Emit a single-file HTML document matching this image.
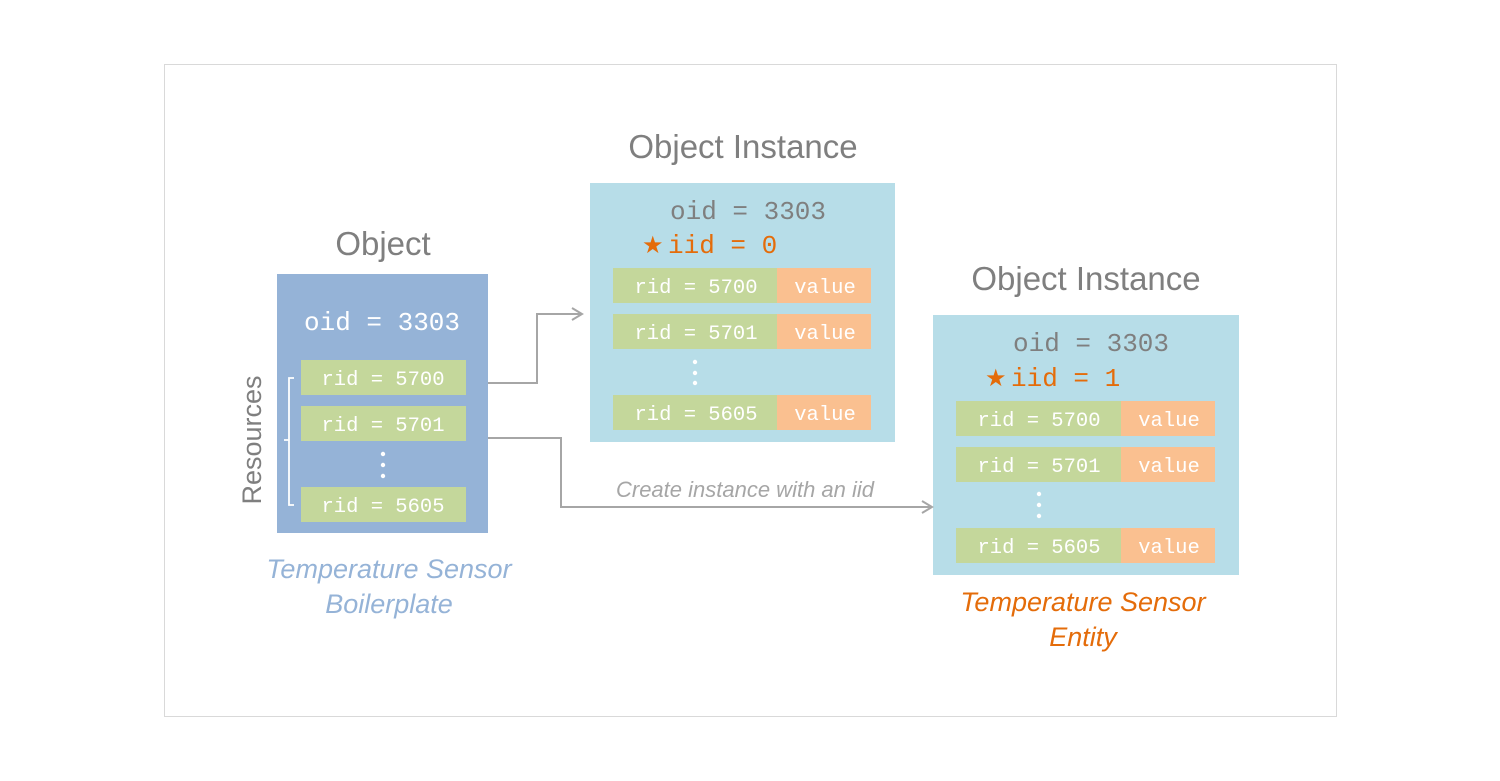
<!DOCTYPE html>
<html><head><meta charset="utf-8"><style>
html,body{margin:0;padding:0;background:#fff;}
svg{display:block;}
.m{font-family:"Liberation Mono",monospace;}
.s{font-family:"Liberation Sans",sans-serif;}
</style></head><body>
<svg width="1500" height="781" viewBox="0 0 1500 781" xmlns="http://www.w3.org/2000/svg">
<rect x="164.5" y="64.5" width="1172" height="652" fill="#fff" stroke="#d9d9d9" stroke-width="1"/>

<!-- Object -->
<text x="383" y="255" class="s" font-size="33" fill="#7f7f7f" text-anchor="middle">Object</text>
<rect x="277" y="274" width="211" height="259" fill="#95b3d7"/>
<text x="382" y="330" class="m" font-size="26" fill="#fff" text-anchor="middle">oid = 3303</text>
<g class="m" font-size="20.5" fill="#fff" text-anchor="middle">
<rect x="301" y="360" width="165" height="35" fill="#c4d79b"/>
<text x="383" y="385">rid = 5700</text>
<rect x="301" y="406" width="165" height="35" fill="#c4d79b"/>
<text x="383" y="431">rid = 5701</text>
<rect x="301" y="487" width="165" height="35" fill="#c4d79b"/>
<text x="383" y="512">rid = 5605</text>
</g>
<g fill="#fff"><circle cx="383" cy="454" r="2.2"/><circle cx="383" cy="465" r="2.2"/><circle cx="383" cy="476" r="2.2"/></g>
<path d="M294 378 H289 V505 H294 M289 440 H284" fill="none" stroke="#fff" stroke-width="1.8"/>
<text transform="translate(261,440) rotate(-90)" class="s" font-size="27" fill="#7f7f7f" text-anchor="middle">Resources</text>
<text x="389" y="578" class="s" font-size="27" font-style="italic" fill="#95b3d7" text-anchor="middle">Temperature Sensor</text>
<text x="389" y="613" class="s" font-size="27" font-style="italic" fill="#95b3d7" text-anchor="middle">Boilerplate</text>

<!-- Instance 1 -->
<text x="743" y="158" class="s" font-size="33" fill="#7f7f7f" text-anchor="middle">Object Instance</text>
<rect x="590" y="183" width="305" height="259" fill="#b7dde8"/>
<text x="748" y="219" class="m" font-size="26" fill="#7f7f7f" text-anchor="middle">oid = 3303</text>
<text x="642" y="253" font-family="DejaVu Sans,sans-serif" font-size="24" fill="#e46c0a">★</text>
<text x="668" y="253" class="m" font-size="26" fill="#e46c0a">iid = 0</text>
<g class="m" font-size="20.5" fill="#fff" text-anchor="middle">
<rect x="613" y="268" width="164" height="35" fill="#c4d79b"/><rect x="777" y="268" width="94" height="35" fill="#fac090"/>
<text x="696" y="293">rid = 5700</text><text x="825" y="293">value</text>
<rect x="613" y="314" width="164" height="35" fill="#c4d79b"/><rect x="777" y="314" width="94" height="35" fill="#fac090"/>
<text x="696" y="339">rid = 5701</text><text x="825" y="339">value</text>
<rect x="613" y="395" width="164" height="35" fill="#c4d79b"/><rect x="777" y="395" width="94" height="35" fill="#fac090"/>
<text x="696" y="420">rid = 5605</text><text x="825" y="420">value</text>
</g>
<g fill="#fff"><circle cx="695" cy="362" r="2.2"/><circle cx="695" cy="373" r="2.2"/><circle cx="695" cy="383" r="2.2"/></g>

<!-- Instance 2 -->
<text x="1086" y="290" class="s" font-size="33" fill="#7f7f7f" text-anchor="middle">Object Instance</text>
<rect x="933" y="315" width="306" height="260" fill="#b7dde8"/>
<text x="1091" y="351" class="m" font-size="26" fill="#7f7f7f" text-anchor="middle">oid = 3303</text>
<text x="985" y="386" font-family="DejaVu Sans,sans-serif" font-size="24" fill="#e46c0a">★</text>
<text x="1011" y="386" class="m" font-size="26" fill="#e46c0a">iid = 1</text>
<g class="m" font-size="20.5" fill="#fff" text-anchor="middle">
<rect x="956" y="401" width="165" height="35" fill="#c4d79b"/><rect x="1121" y="401" width="94" height="35" fill="#fac090"/>
<text x="1039" y="426">rid = 5700</text><text x="1169" y="426">value</text>
<rect x="956" y="447" width="165" height="35" fill="#c4d79b"/><rect x="1121" y="447" width="94" height="35" fill="#fac090"/>
<text x="1039" y="472">rid = 5701</text><text x="1169" y="472">value</text>
<rect x="956" y="528" width="165" height="35" fill="#c4d79b"/><rect x="1121" y="528" width="94" height="35" fill="#fac090"/>
<text x="1039" y="553">rid = 5605</text><text x="1169" y="553">value</text>
</g>
<g fill="#fff"><circle cx="1039" cy="494" r="2.2"/><circle cx="1039" cy="505" r="2.2"/><circle cx="1039" cy="516" r="2.2"/></g>
<text x="1083" y="611" class="s" font-size="27" font-style="italic" fill="#e46c0a" text-anchor="middle">Temperature Sensor</text>
<text x="1083" y="646" class="s" font-size="27" font-style="italic" fill="#e46c0a" text-anchor="middle">Entity</text>

<!-- Connectors -->
<g fill="none" stroke="#a6a6a6" stroke-width="2">
<path d="M488 383 H537 V314 H581"/>
<path d="M572 308 L582 314 L572 320"/>
<path d="M488 438 H561 V507 H931"/>
<path d="M922 501 L932 507 L922 513"/>
</g>
<text x="745" y="497" class="s" font-size="22" font-style="italic" fill="#a6a6a6" text-anchor="middle">Create instance with an iid</text>
</svg>
</body></html>
